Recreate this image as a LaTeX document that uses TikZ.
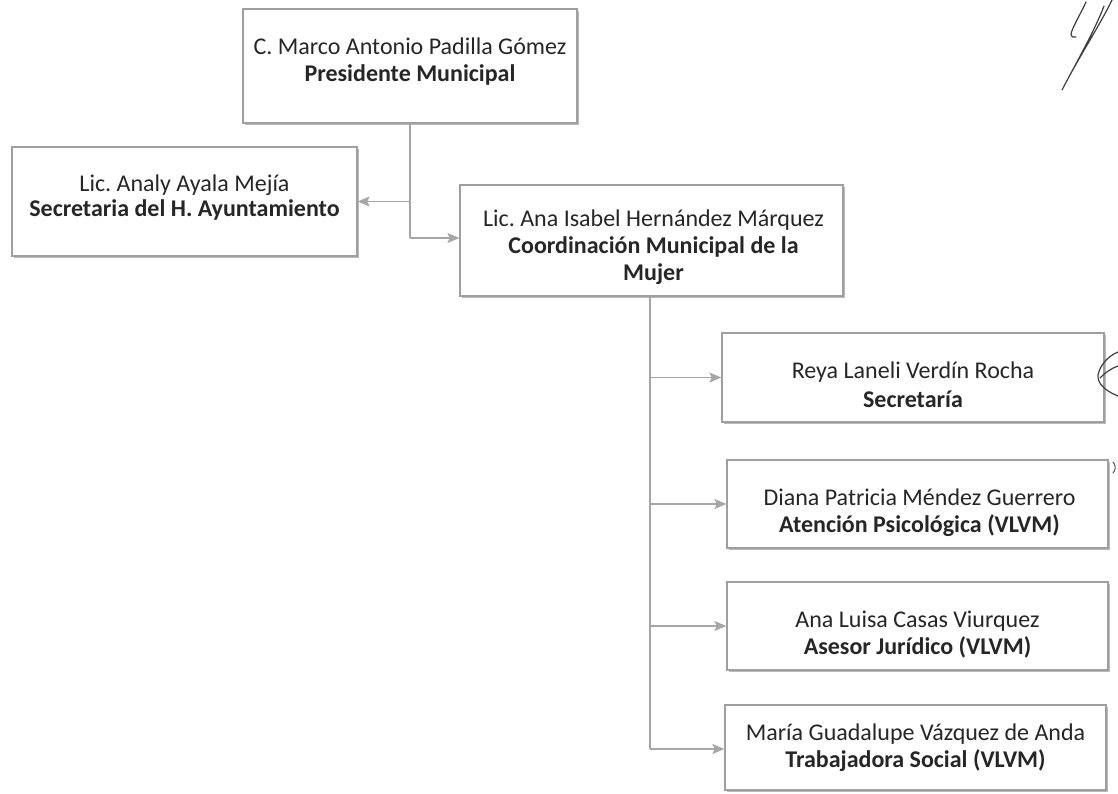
\documentclass[tikz,border=0pt]{standalone}
\usepackage{fontspec}
\setmainfont{Carlito}
\usetikzlibrary{arrows.meta,shadows}
\tikzset{
  orgbox/.style={draw=gray!75, line width=1.3pt, fill=white, inner sep=0pt,
    drop shadow={shadow xshift=1.6pt, shadow yshift=-1.6pt, fill=gray!55, opacity=1}},
  boxtext/.style={inner sep=0pt, align=center, text=black!85,
    font=\fontsize{24}{27}\selectfont},
  link/.style={draw=gray!70, line width=1.1pt},
  arr/.style={link, -{Stealth[length=12pt,width=10pt,inset=2.5pt]}},
  sig/.style={draw=black!75, line width=1.2pt, line cap=round}
}
\begin{document}
\begin{tikzpicture}[x=1pt,y=-1pt]
\useasboundingbox (0,0) rectangle (1118,793);
\fill[white] (0,0) rectangle (1118,793);

% boxes
\node[orgbox, minimum width=334pt, minimum height=114pt] (pres) at (410,66) {};
\node[orgbox, minimum width=345pt, minimum height=109pt] (secay) at (184.5,201.5) {};
\node[orgbox, minimum width=383pt, minimum height=111pt] (coord) at (651.5,240.5) {};
\node[orgbox, minimum width=382pt, minimum height=89pt] (secr) at (913,377.5) {};
\node[orgbox, minimum width=381pt, minimum height=88pt] (psic) at (917.5,504) {};
\node[orgbox, minimum width=381pt, minimum height=88pt] (jur) at (917.5,626) {};
\node[orgbox, minimum width=381pt, minimum height=85pt] (soc) at (915.5,747.5) {};

% texts
\node[boxtext, yshift=4pt] (pres-t) at (pres) {C. Marco Antonio Padilla Gómez\\\textbf{Presidente Municipal}};
\node[boxtext, font=\fontsize{24}{25}\selectfont, yshift=4pt] (secay-t) at (secay) {Lic.\ Analy Ayala Mejía\\\textbf{Secretaria del H. Ayuntamiento}};
\node[boxtext, yshift=-7pt, xshift=2pt] (coord-t) at (coord) {Lic.\ Ana Isabel Hernández Márquez\\\textbf{Coordinación Municipal de la}\\\textbf{Mujer}};
\node[boxtext, font=\fontsize{24}{29}\selectfont, yshift=-7pt] (secr-t) at (secr) {Reya Laneli Verdín Rocha\\\textbf{Secretaría}};
\node[boxtext, yshift=-9pt, xshift=2pt] (psic-t) at (psic) {Diana Patricia Méndez Guerrero\\\textbf{Atención Psicológica (VLVM)}};
\node[boxtext, yshift=-9pt] (jur-t) at (jur) {Ana Luisa Casas Viurquez\\\textbf{Asesor Jurídico (VLVM)}};
\node[boxtext] (soc-t) at (soc) {María Guadalupe Vázquez de Anda\\\textbf{Trabajadora Social (VLVM)}};

% connectors from president
\coordinate (pb) at (410,238);
\coordinate (pl) at (410,201.5);
\draw[link] (pres.south) -- (pb);
\draw[arr] (pl) -- (secay.east);
\draw[arr] (pb) -- (pb -| coord.west);

% connectors from coordination
\coordinate (c0) at (650,0);
\coordinate (cb) at (650,749);
\draw[link] (coord.south -| c0) -- (cb);
\draw[arr] (secr.west -| c0) -- (secr.west);
\draw[arr] (psic.west -| c0) -- (psic.west);
\draw[arr] (jur.west -| c0) -- (jur.west);
\draw[arr] (cb) -- (cb -| soc.west);

% handwritten marks
\draw[sig] (1086,2) .. controls (1080,15) and (1072,28) .. (1071,34) .. controls (1071,37) and (1074,38) .. (1076,37);
\draw[sig] (1112,0) .. controls (1100,25) and (1080,55) .. (1062,90) .. controls (1075,65) and (1095,30) .. (1104,6);
\draw[sig] (1118,352) .. controls (1108,356) and (1100,365) .. (1098,375) .. controls (1097,385) and (1108,392) .. (1118,396);
\draw[sig] (1100,378) .. controls (1106,372) and (1112,368) .. (1118,366);
\draw[sig, line width=0.9pt] (1113,462) .. controls (1116,465) and (1116,470) .. (1113,473);
\end{tikzpicture}
\end{document}
